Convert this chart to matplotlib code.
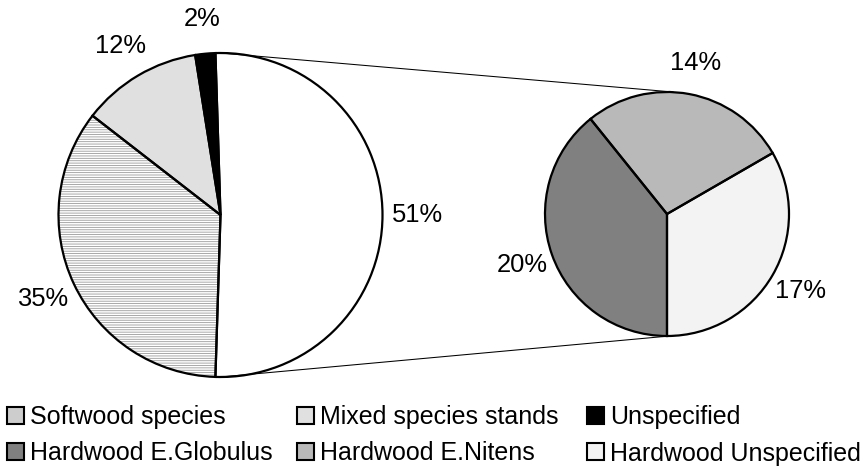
import numpy as np
import matplotlib
matplotlib.use("Agg")
import matplotlib.pyplot as plt
from matplotlib.patches import Patch

plt.rcParams['font.family'] = ['Liberation Sans', 'DejaVu Sans']
plt.rcParams['hatch.linewidth'] = 0.6

# ---- data ----
main_categories = ["Hardwood (all)", "Unspecified", "Mixed species stands", "Softwood species"]
main_values = [51, 2, 12, 35]
main_labels = ["51%", "2%", "12%", "35%"]

sub_categories = ["Hardwood Unspecified", "Hardwood E.Nitens", "Hardwood E.Globulus"]
sub_values = [17, 14, 20]
sub_labels = ["17%", "14%", "20%"]

legend_columns = [["Softwood species", "Hardwood E.Globulus"],
                  ["Mixed species stands", "Hardwood E.Nitens"],
                  ["Unspecified", "Hardwood Unspecified"]]

# ---- styles ----
face = {
    "Hardwood (all)": "#ffffff",
    "Unspecified": "#000000",
    "Mixed species stands": "#e0e0e0",
    "Softwood species": "#ffffff",
    "Hardwood Unspecified": "#f3f3f3",
    "Hardwood E.Nitens": "#b9b9b9",
    "Hardwood E.Globulus": "#808080",
}
hatch = {"Softwood species": "-------"}
legend_face = dict(face)
legend_face["Softwood species"] = "#cdcdcd"
FS = 18.4
LFS = 18.0
col_x = [7, 297, 587]

W, H = 866, 466
fig = plt.figure(figsize=(W / 100, H / 100), dpi=100)
ax = fig.add_axes([0, 0, 1, 1])

main_c, main_r = (220.5, 251.0), 162.0
sub_c, sub_r = (667.0, 252.0), 122.0

main_frac = np.array(main_values, float) / np.sum(main_values)
start_main = -main_frac[0] * 180.0

def draw_pie(values, cats, center, radius, start):
    wedges, _ = ax.pie(values, startangle=start, counterclock=True, center=center,
                       radius=radius, colors=[face[c] for c in cats],
                       wedgeprops=dict(linewidth=0, edgecolor="#9a9a9a"))
    for w, c in zip(wedges, cats):
        if c in hatch:
            w.set_hatch(hatch[c])
    ax.pie(values, startangle=start, counterclock=True, center=center,
           radius=radius, colors=["none"] * len(values),
           wedgeprops=dict(linewidth=1.6, edgecolor="black", fill=False))
    return wedges

mw = draw_pie(main_values, main_categories, main_c, main_r, start_main)
sw = draw_pie(sub_values, sub_categories, sub_c, sub_r, -90.0)

def put_labels(wedges, labels, center, radius, dist):
    for w, lab in zip(wedges, labels):
        th = np.deg2rad((w.theta1 + w.theta2) / 2.0)
        x = center[0] + radius * dist * np.cos(th)
        y = center[1] + radius * dist * np.sin(th)
        ax.text(x, y, lab, ha="center", va="center", fontsize=FS)

put_labels(mw, main_labels, main_c, main_r, 1.215)
put_labels(sw, sub_labels, sub_c, sub_r, 1.26)

# connector lines between the hardwood slice and the secondary pie
ax.plot([main_c[0], sub_c[0] + 6], [main_c[1] + main_r, sub_c[1] + sub_r], color="black", lw=0.75)
ax.plot([main_c[0], sub_c[0] + 8], [main_c[1] - main_r, sub_c[1] - sub_r + 0.5], color="black", lw=0.75)

ax.set_xlim(0, W)
ax.set_ylim(0, H)
ax.set_aspect("equal")
ax.axis("off")

for cx, col in zip(col_x, legend_columns):
    handles = [Patch(facecolor=legend_face[c], edgecolor="black", linewidth=1.5, label=c)
               for c in col]
    fig.legend(handles=handles, ncol=1, frameon=False, fontsize=LFS,
               loc="upper left", bbox_to_anchor=(cx / W, 1 - 405 / H),
               handlelength=0.66, handleheight=0.66, handletextpad=0.25,
               labelspacing=0.5, borderpad=0, borderaxespad=0)

fig.savefig("out.png", dpi=100)
